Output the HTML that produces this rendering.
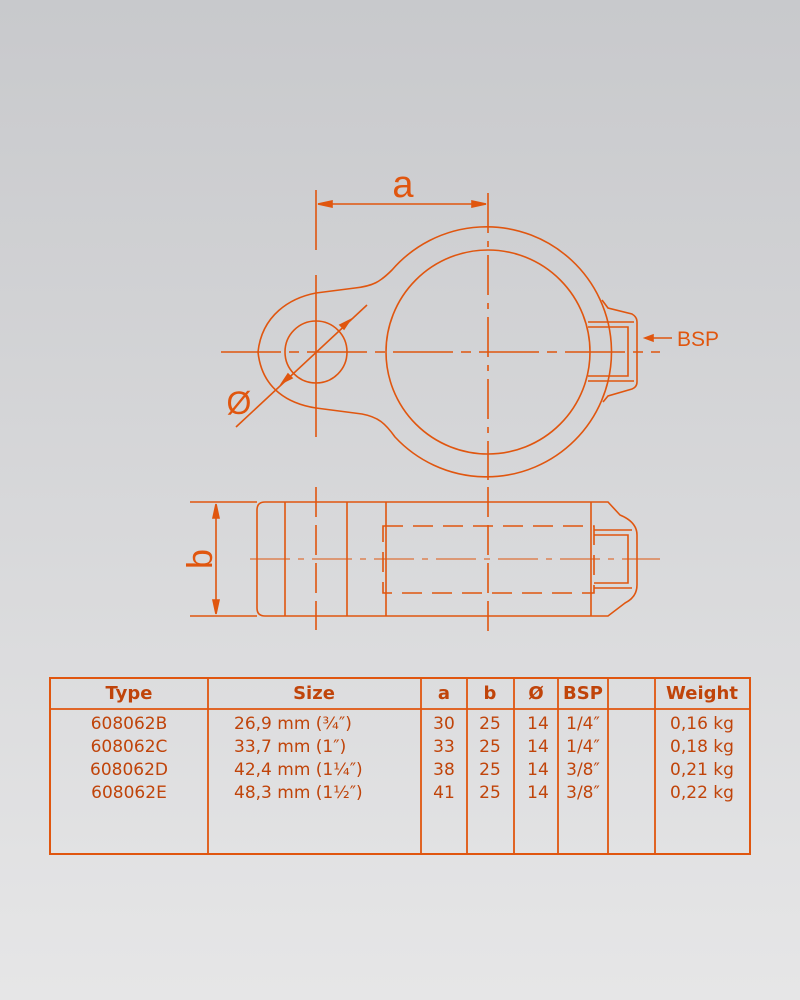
<!DOCTYPE html>
<html><head><style>
body{margin:0;width:800px;height:1000px;background:linear-gradient(#c8c9cc,#e6e6e7);font-family:"DejaVu Sans","Liberation Sans",sans-serif;overflow:hidden}
svg{position:absolute;left:0;top:0}
</style></head><body>
<svg width="800" height="1000" viewBox="0 0 800 1000" fill="none" stroke="#e0560f" stroke-width="1.6">
<line x1="316" y1="190" x2="316" y2="250"/>
<line x1="316" y1="275" x2="316" y2="437"/>
<line x1="488" y1="193" x2="488" y2="480" stroke-dasharray="40 8 6 8"/>
<line x1="318" y1="204" x2="486" y2="204"/>
<path d="M318 204l14 -3v6z M486 204l-14 -3v6z" fill="#e0560f"/>
<text x="403" y="197" font-size="38" fill="#e0560f" stroke="none" text-anchor="middle" font-family="Liberation Sans,sans-serif">a</text>
<line x1="221" y1="352" x2="660" y2="352" stroke-dasharray="60 8 10 8"/>
<circle cx="488" cy="352" r="102"/>
<circle cx="316" cy="352" r="31"/>
<path d="M392 270 A125 125 0 1 1 395 437 C385 423 378 417 362 414 L316 408 C290 404 262 390 258 352 C262 315 290 298 316 293 L355 288 C373 286 380 282 392 270 Z"/>
<path d="M602 300 L608 308 L632 314 Q637 317 637 322 L637 382 Q637 387 632 389 L608 396 L603 402"/>
<path d="M588 322 L634 322 M588 381 L634 381 M588 327 L628 327 L628 376 L588 376"/>
<line x1="236" y1="427" x2="367" y2="305"/>
<path d="M350 320l-10 5 4 4z M282 383l10 -5 -4 -4z" fill="#e0560f"/>
<text x="239" y="414" font-size="32" fill="#e0560f" stroke="none" text-anchor="middle" font-family="Liberation Sans,sans-serif">Ø</text>
<line x1="645" y1="338" x2="672" y2="338"/>
<path d="M645 338l8 -3v6z" fill="#e0560f"/>
<text x="677" y="346" font-size="21" fill="#e0560f" stroke="none" font-family="Liberation Sans,sans-serif">BSP</text>
<line x1="316" y1="487" x2="316" y2="630" stroke-dasharray="30 8"/>
<line x1="488" y1="487" x2="488" y2="632" stroke-dasharray="30 8"/>
<path d="M265 502 L591 502 L608 502 L620 515 Q637 522 637 535 L637 585 Q637 597 625 603 L608 616 L591 616 L265 616 Q257 616 257 608 L257 510 Q257 502 265 502Z"/>
<path d="M285 502V616 M347 502V616 M386 502V616 M591 502V616"/>
<path d="M383 526H594V593H383Z" stroke-dasharray="20 10"/>
<path d="M594 530H632 M594 588H632 M594 535H628V583H594" />
<line x1="250" y1="559" x2="660" y2="559" stroke-dasharray="40 8 6 8" stroke-width="1"/>
<path d="M190 502H257 M190 616H257 M216 506V612"/>
<path d="M216 504l-3 14h6z M216 614l-3 -14h6z" fill="#e0560f"/>
<text x="0" y="0" font-size="36" fill="#e0560f" stroke="none" text-anchor="middle" transform="translate(212 559) rotate(-90)" font-family="Liberation Sans,sans-serif">b</text>
<rect x="50" y="678" width="700" height="176" stroke-width="2"/>
<path d="M50 709H750 M208 678V854 M421 678V854 M467 678V854 M514 678V854 M558 678V854 M608 678V854 M655 678V854" stroke-width="1.8"/>
<g fill="#c0440a" stroke="none" font-size="18" font-weight="bold" text-anchor="middle">
<text x="129" y="699">Type</text><text x="314" y="699">Size</text><text x="444" y="699">a</text><text x="490" y="699">b</text><text x="536" y="699">Ø</text><text x="583" y="699">BSP</text><text x="702" y="699">Weight</text>
</g>
<g fill="#c0440a" stroke="none" font-size="17">
<g text-anchor="middle"><text x="129" y="729">608062B</text><text x="129" y="752">608062C</text><text x="129" y="775">608062D</text><text x="129" y="798">608062E</text>
<text x="444" y="729">30</text><text x="444" y="752">33</text><text x="444" y="775">38</text><text x="444" y="798">41</text>
<text x="490" y="729">25</text><text x="490" y="752">25</text><text x="490" y="775">25</text><text x="490" y="798">25</text>
<text x="538" y="729">14</text><text x="538" y="752">14</text><text x="538" y="775">14</text><text x="538" y="798">14</text>
<text x="583" y="729">1/4″</text><text x="583" y="752">1/4″</text><text x="583" y="775">3/8″</text><text x="583" y="798">3/8″</text>
<text x="702" y="729">0,16 kg</text><text x="702" y="752">0,18 kg</text><text x="702" y="775">0,21 kg</text><text x="702" y="798">0,22 kg</text></g>
<text x="234" y="729">26,9 mm (¾″)</text><text x="234" y="752">33,7 mm (1″)</text><text x="234" y="775">42,4 mm (1¼″)</text><text x="234" y="798">48,3 mm (1½″)</text>
</g>
</svg>
</body></html>
